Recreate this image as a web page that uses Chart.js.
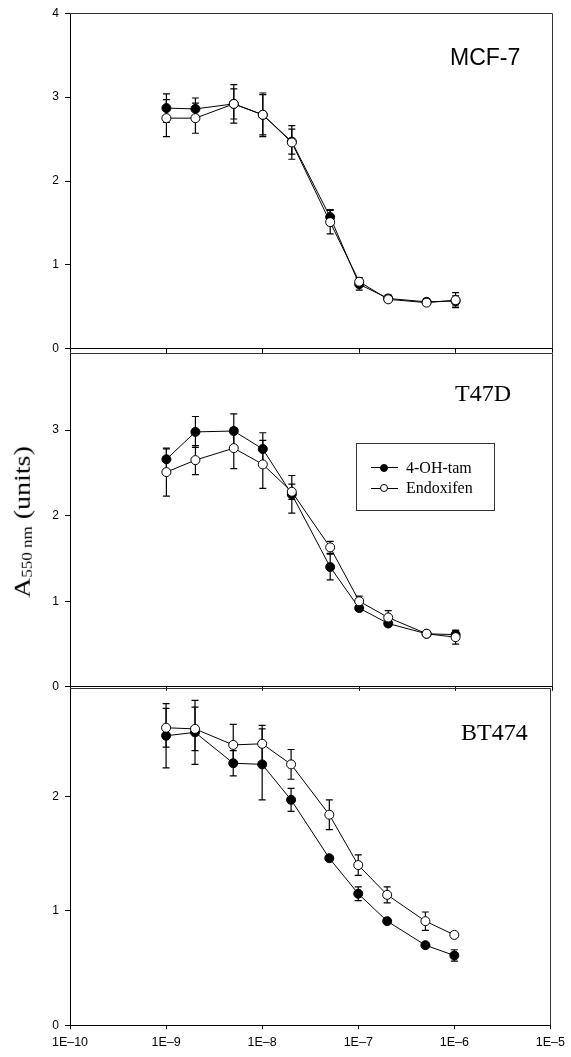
<!DOCTYPE html>
<html lang="en">
  <head>
    <meta charset="UTF-8" />
    <meta name="viewport" content="width=device-width, initial-scale=1.0" />
    <title>A550 nm vs concentration</title>
    <script src="https://cdn.jsdelivr.net/npm/chart.js"></script>
    <style>
      body {
        margin: 0;
        background: #fff;
      }
      #fig {
        position: relative;
        width: 571px;
        height: 1057px;
        overflow: hidden;
      }
      #fig canvas {
        position: absolute;
        left: 0;
      }
      .panel-label {
        position: absolute;
        white-space: nowrap;
        color: #000;
      }
      .sans {
        font-family: "Liberation Sans", Arial, sans-serif;
        font-size: 23px;
        line-height: 23px;
      }
      .serif {
        font-family: "Liberation Serif", "Times New Roman", serif;
        font-size: 24px;
        line-height: 24px;
      }
      #ylabel {
        position: absolute;
        left: 23px;
        top: 522px;
        transform: translate(-50%, -50%) rotate(-90deg) scaleY(0.8);
        white-space: nowrap;
        font-family: "Liberation Serif", "Times New Roman", serif;
        font-size: 28px;
        color: #000;
      }
      #ylabel sub {
        font-size: 17px;
        vertical-align: -3px;
      }
      #legend {
        position: absolute;
        left: 356px;
        top: 443px;
        width: 139px;
        height: 68px;
        box-sizing: border-box;
        border: 1px solid #333;
        background: #fff;
      }
      #legend .ln {
        position: absolute;
        left: 14px;
        width: 27px;
        height: 0;
        border-top: 1px solid #000;
      }
      #legend .dot {
        position: absolute;
        left: 23px;
        width: 8px;
        height: 8px;
        box-sizing: border-box;
        border-radius: 50%;
        border: 1px solid #000;
      }
      #legend .txt {
        position: absolute;
        left: 49px;
        font-family: "Liberation Serif", "Times New Roman", serif;
        font-size: 16px;
        line-height: 16px;
        white-space: nowrap;
      }
    </style>
  </head>
  <body>
    <div id="fig">
      <canvas id="mcf7" width="571" height="362" style="top: 0px"></canvas>
      <canvas id="t47d" width="571" height="360" style="top: 340px"></canvas>
      <canvas id="bt474" width="571" height="387" style="top: 670px"></canvas>

      <div class="panel-label sans" style="left: 450px; top: 45.5px">MCF-7</div>
      <div class="panel-label serif" style="left: 455px; top: 381px">T47D</div>
      <div class="panel-label serif" style="left: 461px; top: 720px">BT474</div>

      <div id="ylabel">A<sub>550 nm</sub> (units)</div>
      <div id="legend"></div>
    </div>

    <script>
      // nồng độ (M)
      const conc = [1e-9, 2e-9, 5e-9, 1e-8, 2e-8, 5e-8, 1e-7, 2e-7, 5e-7, 1e-6];
      const xTicks = [1e-10, 1e-9, 1e-8, 1e-7, 1e-6, 1e-5];
      const seriesLabels = ["4-OH-tam", "Endoxifen"];

      // MCF-7
      const mcfTam = [2.87, 2.86, 2.92, 2.79, 2.47, 1.57, 0.77, 0.6, 0.56, 0.57];
      const mcfTamErr = [0.17, 0.13, 0.23, 0.24, 0.15, 0.09, 0.07, 0.04, 0.04, 0.06];
      const mcfEndo = [2.75, 2.75, 2.92, 2.79, 2.46, 1.51, 0.8, 0.59, 0.55, 0.58];
      const mcfEndoErr = [0.22, 0.18, 0.18, 0.26, 0.2, 0.14, 0.05, 0.03, 0.03, 0.09];

      // T47D
      const t47Tam = [2.66, 2.98, 2.99, 2.78, 2.25, 1.4, 0.92, 0.74, 0.62, 0.61];
      const t47TamErr = [0.12, 0.18, 0.2, 0.19, 0.22, 0.15, 0.03, 0.03, 0.03, 0.05];
      const t47Endo = [2.51, 2.65, 2.79, 2.6, 2.28, 1.63, 1.0, 0.81, 0.62, 0.58];
      const t47EndoErr = [0.28, 0.17, 0.24, 0.28, 0.09, 0.07, 0.06, 0.08, 0.03, 0.08];

      // BT474
      const btTam = [2.53, 2.56, 2.29, 2.28, 1.97, 1.46, 1.15, 0.91, 0.7, 0.61];
      const btTamErr = [0.28, 0.28, 0.11, 0.31, 0.1, 0.01, 0.06, 0.01, 0.02, 0.05];
      const btEndo = [2.6, 2.59, 2.45, 2.46, 2.28, 1.84, 1.4, 1.14, 0.91, 0.79];
      const btEndoErr = [0.17, 0.19, 0.18, 0.16, 0.13, 0.13, 0.09, 0.07, 0.08, 0.01];

      const toPoints = (ys) => conc.map((x, i) => ({ x: x, y: ys[i] }));

      // thanh sai số vẽ qua trục y của chart
      const errorBars = {
        id: "errorBars",
        beforeDatasetsDraw(chart) {
          const ctx = chart.ctx;
          const y = chart.scales.y;
          ctx.save();
          ctx.strokeStyle = "#000";
          ctx.lineWidth = 1.2;
          chart.data.datasets.forEach((ds, i) => {
            const meta = chart.getDatasetMeta(i);
            meta.data.forEach((pt, j) => {
              const e = ds.errors[j];
              if (!e) return;
              const v = ds.data[j].y;
              const top = y.getPixelForValue(v + e);
              const bot = y.getPixelForValue(v - e);
              ctx.beginPath();
              ctx.moveTo(pt.x, top);
              ctx.lineTo(pt.x, bot);
              ctx.moveTo(pt.x - 3.5, top);
              ctx.lineTo(pt.x + 3.5, top);
              ctx.moveTo(pt.x - 3.5, bot);
              ctx.lineTo(pt.x + 3.5, bot);
              ctx.stroke();
            });
          });
          ctx.restore();
        },
      };

      // khung trên + phải
      const frame = {
        id: "frame",
        afterDraw(chart) {
          const a = chart.chartArea;
          const ctx = chart.ctx;
          ctx.save();
          ctx.strokeStyle = "#333";
          ctx.lineWidth = 1;
          ctx.beginPath();
          ctx.moveTo(a.left, Math.round(a.top) + 0.5);
          ctx.lineTo(Math.round(a.right) + 0.5, Math.round(a.top) + 0.5);
          ctx.lineTo(Math.round(a.right) + 0.5, a.bottom);
          ctx.stroke();
          ctx.restore();
        },
      };

      function makePanel(id, tam, tamErr, endo, endoErr, yMax, padTop, xHeight, showX) {
        return new Chart(document.getElementById(id), {
          type: "line",
          data: {
            datasets: [
              {
                label: seriesLabels[1],
                data: toPoints(endo),
                errors: endoErr,
                order: 0,
                borderColor: "#000",
                borderWidth: 1,
                pointRadius: 4.5,
                pointBorderWidth: 1,
                pointBorderColor: "#000",
                pointBackgroundColor: "#fff",
                tension: 0,
                fill: false,
              },
              {
                label: seriesLabels[0],
                data: toPoints(tam),
                errors: tamErr,
                order: 1,
                borderColor: "#000",
                borderWidth: 1,
                pointRadius: 4.5,
                pointBorderWidth: 1,
                pointBorderColor: "#000",
                pointBackgroundColor: "#000",
                tension: 0,
                fill: false,
              },
            ],
          },
          options: {
            responsive: false,
            animation: false,
            devicePixelRatio: 1,
            layout: { padding: { top: padTop, right: 19, left: 0, bottom: 0 } },
            plugins: {
              legend: { display: false },
              tooltip: { enabled: false },
            },
            scales: {
              x: {
                type: "logarithmic",
                min: 1e-10,
                max: 1e-5,
                afterBuildTicks: (s) => {
                  s.ticks = xTicks.map((v) => ({ value: v }));
                },
                afterFit: (s) => {
                  s.height = xHeight;
                },
                grid: { drawOnChartArea: false, drawTicks: true, tickLength: 4, color: "#000" },
                border: { color: "#000", width: 1 },
                ticks: {
                  display: showX,
                  autoSkip: false,
                  maxRotation: 0,
                  padding: 6,
                  color: "#000",
                  font: { family: "Liberation Sans", size: 12.5 },
                  callback: (v) => "1E\u2013" + Math.round(-Math.log10(v)),
                },
              },
              y: {
                min: 0,
                max: yMax,
                afterBuildTicks: (s) => {
                  const t = [];
                  for (let v = 0; v <= yMax; v++) t.push({ value: v });
                  s.ticks = t;
                },
                afterFit: (s) => {
                  s.width = 70;
                },
                grid: { drawOnChartArea: false, drawTicks: true, tickLength: 5, color: "#000" },
                border: { color: "#000", width: 1 },
                ticks: {
                  padding: 6,
                  color: "#000",
                  font: { family: "Liberation Sans", size: 12 },
                  callback: (v) => String(v),
                },
              },
            },
          },
          plugins: [errorBars, frame],
        });
      }

      makePanel("mcf7", mcfTam, mcfTamErr, mcfEndo, mcfEndoErr, 4, 13.3, 11.5, false);
      makePanel("t47d", t47Tam, t47TamErr, t47Endo, t47EndoErr, 3.9, 10.6, 12.3, false);
      makePanel("bt474", btTam, btTamErr, btEndo, btEndoErr, 2.95, 17.7, 31.7, true);

      // chú thích
      const legendRows = [
        { label: seriesLabels[0], fill: "#000", lineY: 23.3, textY: 15.6 },
        { label: seriesLabels[1], fill: "#fff", lineY: 43.7, textY: 36 },
      ];
      const legend = document.getElementById("legend");
      legendRows.forEach((r) => {
        const ln = document.createElement("div");
        ln.className = "ln";
        ln.style.top = r.lineY + "px";
        const dot = document.createElement("div");
        dot.className = "dot";
        dot.style.top = r.lineY - 3.5 + "px";
        dot.style.background = r.fill;
        const txt = document.createElement("div");
        txt.className = "txt";
        txt.style.top = r.textY + "px";
        txt.textContent = r.label;
        legend.append(ln, dot, txt);
      });
    </script>
  </body>
</html>
